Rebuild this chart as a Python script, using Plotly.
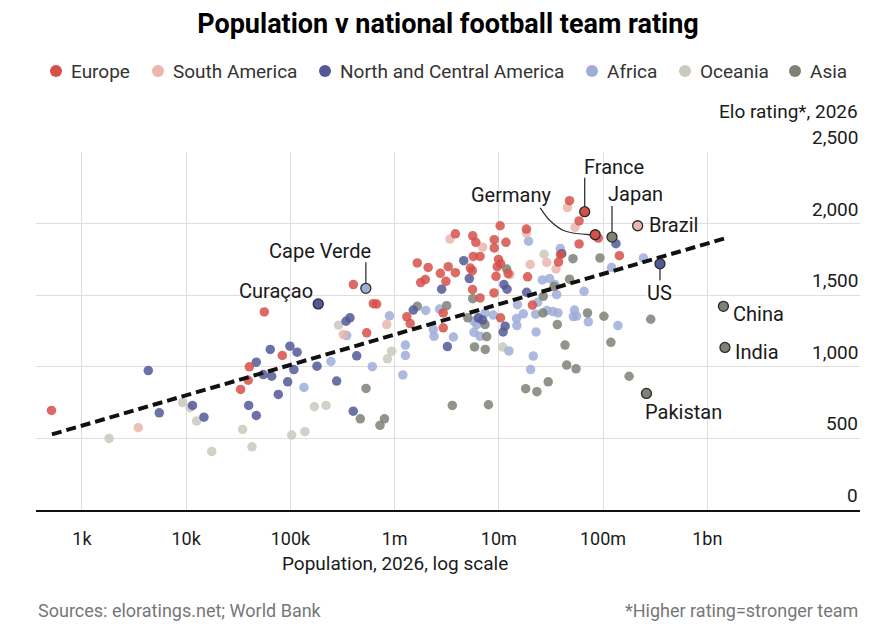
import numpy as np
import plotly.graph_objects as go

# ---------------- data ----------------
regions = ["Europe", "South America", "North and Central America", "Africa", "Oceania", "Asia"]
region_colors = ["#d6504a", "#ebb6ac", "#525996", "#9fadd8", "#c9c9bd", "#7e8176"]

europe_pop = [510, 56200, 83600, 40400, 39400, 33300, 402000, 625000, 673000, 540000,
              1.31e6, 1.41e6, 2.93e6, 2.93e6, 1.65e6, 2.10e6, 2.75e6, 3.27e6, 3.83e6, 3.11e6,
              1.97e6, 1.78e6, 3.83e6, 5.62e6, 6.02e6, 5.33e6, 5.57e6, 5.60e6, 5.69e6, 6.61e6,
              9.04e6, 9.04e6, 10.3e6, 11.7e6, 9.93e6, 10.4e6, 9.66e6, 12.3e6, 9.40e6, 9.0e6,
              6.61e6, 18.4e6, 18.9e6, 10.4e6, 21.0e6, 47.7e6, 58.9e6, 90.1e6, 58.9e6, 143.6e6,
              39.1e6, 37.4e6]
europe_elo = [695, 1383, 1079, 1000, 906, 842, 1574, 1441, 1438, 1237,
              1349, 1302, 1376, 1272, 1725, 1694, 1653, 1699, 1657, 1597,
              1609, 1588, 1929, 1915, 1869, 1690, 1671, 1539, 1771, 1771,
              1888, 1830, 1985, 1869, 1750, 1720, 1699, 1651, 1632, 1516,
              1481, 1962, 1628, 1342, 1431, 2160, 2019, 1899, 1858, 1776,
              1783, 1731]

samerica_pop = [3470, 322000, 840000, 3.40e6, 7.0e6, 18.4e6, 20.0e6, 12.8e6, 28.8e6, 35.4e6,
                45.6e6, 53.8e6]
samerica_elo = [575, 1225, 1295, 1892, 1835, 1934, 1715, 1644, 1729, 1683,
                2112, 1973]

ncamerica_pop = [4330, 5520, 11500, 14800, 39800, 47100, 47100, 64100, 99000, 116000,
                 55000, 66200, 108000, 180000, 94200, 76600, 278000, 373000, 342000, 433000,
                 401000, 1.51e6, 2.83e6, 3.21e6, 4.61e6, 5.21e6, 6.35e6, 7.0e6, 11.2e6, 12.0e6,
                 11.5e6, 11.0e6, 18.5e6, 40.2e6, 133e6]
ncamerica_elo = [974, 679, 730, 648, 730, 660, 1032, 1121, 1144, 1102,
                 946, 934, 981, 1004, 895, 807, 900, 1342, 1318, 1077,
                 690, 1396, 1542, 1141, 1741, 1616, 1342, 1326, 1574, 1542,
                 1284, 1243, 1520, 1790, 1860]

africa_pop = [245000, 135000, 347000, 611000, 893000, 1.27e6, 1.27e6, 1.20e6, 1.99e6, 2.70e6,
              2.35e6, 2.39e6, 3.67e6, 5.78e6, 6.61e6, 6.14e6, 5.78e6, 7.38e6, 8.85e6, 12.5e6,
              15.1e6, 14.9e6, 14.8e6, 17.2e6, 22.8e6, 22.6e6, 21.4e6, 20.2e6, 23.6e6, 19.3e6,
              26.2e6, 30.7e6, 34.6e6, 35.9e6, 29.0e6, 33.1e6, 37.0e6, 38.9e6, 53.3e6, 55.7e6,
              51.9e6, 72.3e6, 65.8e6, 121e6, 139e6, 244e6]
africa_elo = [1037, 856, 1218, 1001, 1356, 1152, 1079, 943, 1394, 1403,
              1260, 1213, 1208, 1241, 1213, 1295, 1318, 1376, 1361, 1111,
              1434, 1288, 1337, 1370, 1243, 1367, 1075, 981, 1450, 1877,
              1607, 1616, 1574, 1504, 1393, 1386, 1376, 1826, 1396, 1354,
              1351, 1314, 1527, 1694, 1288, 1760]

oceania_pop = [1820, 9250, 10900, 12600, 17600, 34800, 42800, 103000, 138000, 170000,
               220000, 290000, 855000, 938000, 10.9e6, 27.2e6]
oceania_elo = [500, 751, 714, 621, 409, 563, 441, 523, 547, 721,
               730, 1291, 1056, 1109, 1138, 1786]

asia_pop = [1.65e6, 3.16e6, 532000, 469000, 724000, 800000, 3.58e6, 7.96e6, 5.62e6, 5.85e6,
            7.41e6, 7.65e6, 7.38e6, 11.9e6, 26.7e6, 26.5e6, 36.4e6, 43.2e6, 44.8e6, 55.1e6,
            29.8e6, 18.1e6, 23.2e6, 33.9e6, 47.7e6, 51.5e6, 71.0e6, 93.5e6, 102e6, 119e6,
            178e6, 287e6, 5.04e6]
asia_elo = [1422, 1427, 849, 637, 591, 637, 730, 735, 1476, 1139,
            1121, 1211, 1295, 1683, 1492, 1376, 1295, 1152, 1012, 986,
            895, 847, 826, 1560, 1612, 1755, 1376, 1760, 1353, 1171,
            934, 1332, 1342]

highlight_names = ["France", "Germany", "Japan", "Brazil", "US", "China", "India",
                   "Pakistan", "Cape Verde", "Curaçao"]
highlight_region = ["Europe", "Europe", "Asia", "South America", "North and Central America",
                    "Asia", "Asia", "Asia", "Africa", "North and Central America"]
highlight_pop = [66.7e6, 84.1e6, 122e6, 215e6, 352e6, 1.43e9, 1.48e9, 261e6, 530000, 185000]
highlight_elo = [2083, 1922, 1906, 1985, 1719, 1422, 1135, 814, 1548, 1439]

trend_pop = [515, 1.45e9]
trend_elo = [528, 1895]

x_ticks = [1e3, 1e4, 1e5, 1e6, 1e7, 1e8, 1e9]
x_ticktext = ["1k", "10k", "100k", "1m", "10m", "100m", "1bn"]
y_ticks = [0, 500, 1000, 1500, 2000, 2500]

# ---------------- layout geometry ----------------
W, H = 886, 630
ML, MR, MT, MB = 36, 26, 152, 120
PW, PH = W - ML - MR, H - MT - MB
XR = [2.559, 10.466]
YR = [0, 2500]
PX_PER_DEC = PW / (XR[1] - XR[0])
ELO_PER_PX = (YR[1] - YR[0]) / PH

FONT = "Roboto, 'Liberation Sans', Arial, sans-serif"
TITLE_FONT = "'Liberation Sans Narrow', Roboto, Arial, sans-serif"
TXT = "#1a1a1a"


def paper_x(px):
    return (px - ML) / PW


def paper_y(py):
    return (H - MB - py) / PH


def offset_point(pop, elo, dx, dy):
    return pop * 10 ** (dx / PX_PER_DEC), elo - dy * ELO_PER_PX


series = {
    "Europe": (europe_pop, europe_elo),
    "South America": (samerica_pop, samerica_elo),
    "North and Central America": (ncamerica_pop, ncamerica_elo),
    "Africa": (africa_pop, africa_elo),
    "Oceania": (oceania_pop, oceania_elo),
    "Asia": (asia_pop, asia_elo),
}
color_of = dict(zip(regions, region_colors))

fig = go.Figure()

draw_order = ["Oceania", "Africa", "Asia", "North and Central America", "South America", "Europe"]
for r in draw_order:
    p, e = series[r]
    fig.add_trace(go.Scatter(
        x=p, y=e, mode="markers", name=r, showlegend=False,
        marker=dict(size=9.5, color=color_of[r], opacity=0.85, line=dict(width=0)),
        hoverinfo="skip"))

# trend line
fig.add_trace(go.Scatter(
    x=trend_pop, y=trend_elo, mode="lines", showlegend=False, hoverinfo="skip",
    line=dict(color="#111111", width=4, dash="10px,5px")))

# label configuration: text offset (px), anchor, leader-line points (px offsets)
label_cfg = {
    "France": dict(dx=-2, dy=-45, anchor="left", leader=[(0, -5), (0, -34)]),
    "Germany": dict(dx=-43, dy=-40, anchor="right",
                    leader=[(-55, -27), (-45, -14), (-31, -4), (-5, 0)]),
    "Japan": dict(dx=-5, dy=-43, anchor="left", leader=[(0, -4), (0, -31)]),
    "Brazil": dict(dx=10, dy=-1, anchor="left", leader=None),
    "US": dict(dx=0, dy=29, anchor="center", leader=[(0, 4), (0, 17)]),
    "China": dict(dx=9, dy=8, anchor="left", leader=None),
    "India": dict(dx=9, dy=5, anchor="left", leader=None),
    "Pakistan": dict(dx=-2, dy=19, anchor="left", leader=None),
    "Cape Verde": dict(dx=6, dy=-37, anchor="right", leader=[(0, -4), (0, -26)]),
    "Curaçao": dict(dx=-4, dy=-13, anchor="right", leader=None),
}

annotations = []
for name, reg, p, e in zip(highlight_names, highlight_region, highlight_pop, highlight_elo):
    cfg = label_cfg[name]
    if cfg["leader"]:
        pts = [offset_point(p, e, dx, dy) for dx, dy in cfg["leader"]]
        fig.add_trace(go.Scatter(
            x=[q[0] for q in pts], y=[q[1] for q in pts], mode="lines",
            line=dict(color="#333333", width=1.3, shape="spline", smoothing=1.0),
            showlegend=False, hoverinfo="skip"))
    annotations.append(dict(
        x=np.log10(p), y=e, xref="x", yref="y", text=name, showarrow=False,
        xshift=cfg["dx"], yshift=-cfg["dy"], xanchor=cfg["anchor"], yanchor="middle",
        font=dict(family=FONT, size=20, color=TXT),
        bgcolor="white" if name == "US" else None, borderpad=0))

fig.add_trace(go.Scatter(
    x=highlight_pop, y=highlight_elo, mode="markers", showlegend=False, hoverinfo="skip",
    marker=dict(size=10, color=[color_of[r] for r in highlight_region],
                line=dict(color="#2a2a2a", width=1.3))))

# y tick labels (right side, above grid lines)
for v in y_ticks:
    annotations.append(dict(
        x=1, xref="paper", y=v, yref="y", text=f"{v:,}", showarrow=False,
        xanchor="right", yanchor="bottom", yshift=1,
        font=dict(family=FONT, size=19, color=TXT)))

annotations.append(dict(
    x=1, xref="paper", y=paper_y(112), yref="paper", text="Elo rating*, 2026",
    showarrow=False, xanchor="right", yanchor="middle",
    font=dict(family=FONT, size=19, color=TXT)))

annotations.append(dict(
    x=paper_x(394.5), xref="paper", y=paper_y(563), yref="paper",
    text="Population, 2026, log scale", showarrow=False, xanchor="center", yanchor="middle",
    font=dict(family=FONT, size=19, color=TXT)))

annotations.append(dict(
    x=0, xref="paper", y=paper_y(610), yref="paper",
    text="Sources: eloratings.net; World Bank", showarrow=False,
    xanchor="left", yanchor="middle", font=dict(family=FONT, size=18, color="#777777")))
annotations.append(dict(
    x=1, xref="paper", y=paper_y(610), yref="paper",
    text="*Higher rating=stronger team", showarrow=False,
    xanchor="right", yanchor="middle", font=dict(family=FONT, size=18, color="#777777")))

# legend (manual)
legend_dot_x = [56, 158, 325, 592, 685, 795]
legend_y = 71
shapes = []
for r, cx in zip(regions, legend_dot_x):
    rad = 6
    shapes.append(dict(
        type="circle", xref="paper", yref="paper",
        x0=paper_x(cx - rad), x1=paper_x(cx + rad),
        y0=paper_y(legend_y + rad), y1=paper_y(legend_y - rad),
        fillcolor=color_of[r], line=dict(width=0)))
    annotations.append(dict(
        x=paper_x(cx + 13), xref="paper", y=paper_y(legend_y), yref="paper",
        text=r, showarrow=False, xanchor="left", yanchor="middle",
        font=dict(family=FONT, size=19, color="#333333")))

fig.update_layout(
    width=W, height=H,
    margin=dict(l=ML, r=MR, t=MT, b=MB, pad=0),
    paper_bgcolor="white", plot_bgcolor="white",
    title=dict(text="<b>Population v national football team rating</b>",
               x=0.5, xref="paper", y=1 - 24 / H, yref="container",
               xanchor="center", yanchor="middle",
               font=dict(family=TITLE_FONT, size=27, color="#000000")),
    xaxis=dict(type="log", range=XR, tickvals=x_ticks, ticktext=x_ticktext,
               showgrid=True, gridcolor="#dedede", gridwidth=1.3, zeroline=False,
               showline=True, linecolor="#111111", linewidth=1.6, ticks="",
               ticklabelstandoff=12,
               tickfont=dict(family=FONT, size=18, color=TXT), fixedrange=True),
    yaxis=dict(range=YR, tickvals=y_ticks, showticklabels=False, showgrid=True,
               gridcolor="#dedede", gridwidth=1.3, zeroline=False, showline=False,
               ticks="", fixedrange=True),
    annotations=annotations, shapes=shapes, showlegend=False,
)

fig.write_html("out.html")
